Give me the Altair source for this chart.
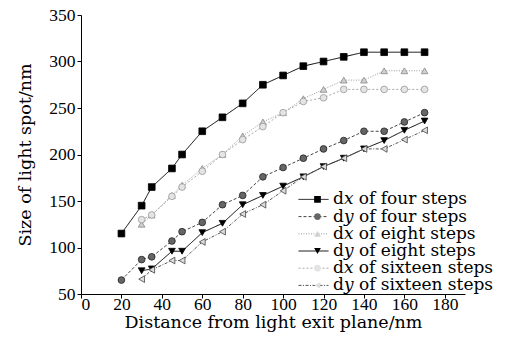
import altair as alt
import pandas as pd

series_names = [
    "d𝑥 of four steps",
    "d𝑦 of four steps",
    "d𝑥 of eight steps",
    "d𝑦 of eight steps",
    "d𝑥 of sixteen steps",
    "d𝑦 of sixteen steps",
]
# marker legend uses the same names with a trailing space so that it is kept separate
marker_names = [s + " " for s in series_names]

x_four = [20, 30, 35, 45, 50, 60, 70, 80, 90, 100, 110, 120, 130, 140, 150, 160, 170]
dx_four = [115, 145, 165, 185, 200, 225, 240, 255, 275, 285, 295, 300, 305, 310, 310, 310, 310]
dy_four = [65, 87, 90, 107, 117, 127, 146, 156, 176, 186, 196, 206, 215, 225, 225, 235, 245]

x_more = [30, 35, 45, 50, 60, 70, 80, 90, 100, 110, 120, 130, 140, 150, 160, 170]
dx_eight = [125, 135, 156, 167, 185, 200, 220, 235, 245, 260, 270, 280, 280, 290, 290, 290]
dy_eight = [75, 77, 96, 96, 116, 126, 146, 156, 166, 176, 187, 196, 206, 215, 226, 236]
dx_sixteen = [130, 135, 155, 165, 182, 200, 216, 230, 245, 257, 261, 270, 270, 270, 270, 270]
dy_sixteen = [66, 76, 86, 86, 106, 117, 136, 146, 161, 176, 187, 196, 206, 206, 216, 226]

x_ticks = list(range(0, 190, 10))
y_ticks = list(range(50, 351, 25))

line_colors = ["#000000", "#444444", "#9a9a9a", "#000000", "#a8a8a8", "#555555"]
dashes = [[1, 0], [3, 2], [1, 1.5], [1, 0], [2, 2], [3, 1.5, 1, 1.5]]
shapes = ["square", "circle", "triangle-up", "triangle-down", "circle", "triangle-left"]
fills = ["#000000", "#666666", "#d0d0d0", "#000000", "#e4e4e4", "#dddddd"]
strokes = ["#000000", "#222222", "#888888", "#000000", "#999999", "#444444"]

rows = []
for i, (xs, ys) in enumerate([
    (x_four, dx_four),
    (x_four, dy_four),
    (x_more, dx_eight),
    (x_more, dy_eight),
    (x_more, dx_sixteen),
    (x_more, dy_sixteen),
]):
    for xv, yv in zip(xs, ys):
        rows.append({"x": xv, "y": yv, "series": series_names[i], "marker": marker_names[i]})
df = pd.DataFrame(rows)

x_enc = alt.X(
    "x:Q",
    scale=alt.Scale(domain=[0, 190], nice=False),
    axis=alt.Axis(
        title="Distance from light exit plane/nm",
        values=x_ticks,
        labelExpr="datum.value % 20 == 0 ? datum.label : ''",
        tickSize=4,
        labelPadding=-3,
        titleY=28,
        titleBaseline="middle",
    ),
)
y_enc = alt.Y(
    "y:Q",
    scale=alt.Scale(domain=[50, 350], nice=False),
    axis=alt.Axis(
        title="Size of light spot/nm",
        values=y_ticks,
        labelExpr="datum.value % 50 == 0 ? datum.label : ''",
        tickSize=4,
        labelPadding=2,
        titleX=-56,
        titleBaseline="middle",
    ),
)

ROW_H = 16.8
ROW_PAD = -0.8
LEG_Y = 176
LEG_FONT = 17

line_legend = alt.Legend(
    title=None,
    orient="none",
    legendX=217,
    legendY=LEG_Y,
    symbolType="stroke",
    symbolSize=900,
    symbolStrokeWidth=1,
    labelExpr="''",
    labelFontSize=LEG_FONT,
    labelFont="DejaVu Serif",
    clipHeight=ROW_H,
    rowPadding=ROW_PAD,
    padding=0,
)

marker_legend = alt.Legend(
    title=None,
    orient="none",
    legendX=228,
    legendY=LEG_Y,
    symbolSize=45,
    symbolStrokeWidth=0.8,
    labelOffset=7,
    labelFontSize=LEG_FONT,
    labelFont="DejaVu Serif",
    labelColor="#000000",
    labelLimit=400,
    clipHeight=ROW_H,
    rowPadding=ROW_PAD,
    padding=0,
)

lines = alt.Chart(df).mark_line(strokeWidth=1).encode(
    x=x_enc,
    y=y_enc,
    color=alt.Color(
        "series:N",
        scale=alt.Scale(domain=series_names, range=line_colors),
        legend=line_legend,
    ),
    strokeDash=alt.StrokeDash(
        "series:N",
        scale=alt.Scale(domain=series_names, range=dashes),
        legend=line_legend,
    ),
)

points = alt.Chart(df).mark_point(filled=True, size=45, opacity=1).encode(
    x="x:Q",
    y="y:Q",
    color=alt.Color(
        "marker:N",
        scale=alt.Scale(domain=marker_names, range=fills),
        legend=marker_legend,
    ),
    shape=alt.Shape(
        "marker:N",
        scale=alt.Scale(domain=marker_names, range=shapes),
        legend=marker_legend,
    ),
    stroke=alt.Stroke("marker:N", scale=alt.Scale(domain=marker_names, range=strokes), legend=None),
    strokeWidth=alt.value(0.8),
)

chart = (
    alt.layer(lines, points)
    .resolve_scale(color="independent")
    .resolve_legend(color="independent", shape="independent", strokeDash="independent")
    .properties(
        width=384,
        height=279,
        autosize=alt.AutoSizeParams(type="none"),
        padding={"left": 73, "top": 7, "right": 32, "bottom": 43},
    )
    .configure_view(stroke=None)
    .configure_axis(
        grid=False,
        domainColor="#000000",
        tickColor="#000000",
        labelColor="#000000",
        titleColor="#000000",
        labelFont="Liberation Serif",
        labelFontSize=17.5,
        titleFont="DejaVu Serif",
        titleFontSize=17.5,
        titleFontWeight="normal",
    )
)

chart.save("out.html", embed_options={"renderer": "svg", "actions": False})
